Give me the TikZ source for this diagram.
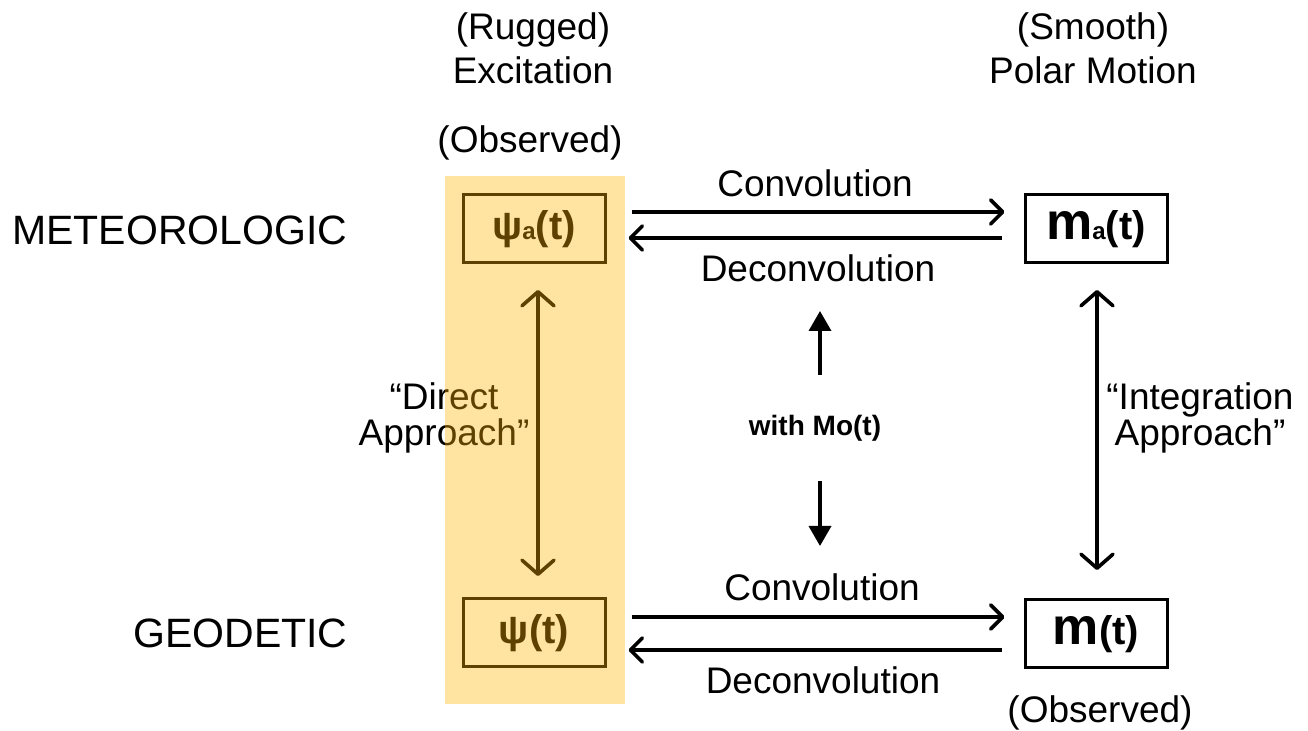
\documentclass[tikz,border=0pt]{standalone}
\usepackage{fontspec}
\setmainfont{Liberation Sans}
\usetikzlibrary{arrows.meta}
\begin{document}
\begin{tikzpicture}[x=0.5pt,y=-0.5pt,
  lbl/.style={font=\fontsize{18.5}{21}\selectfont, inner sep=0pt},
  row/.style={font=\fontsize{20.5}{23}\selectfont, inner sep=0pt},
  sym/.style={draw, line width=1.5pt, minimum width=71pt, minimum height=34pt, inner sep=0pt,
     font=\fontsize{20}{22}\selectfont\bfseries},
  arr/.style={line width=1.8pt, -{Straight Barb[length=6pt,width=12pt,line cap=round,line join=round]}},
  darr/.style={line width=1.8pt, {Straight Barb[length=7pt,width=16pt,line cap=round,line join=round]}-{Straight Barb[length=7pt,width=16pt,line cap=round,line join=round]}},
  varr/.style={line width=1.8pt, -{Triangle[length=10pt,width=11pt]}}]
\useasboundingbox (0,0) rectangle (1308,731);
% column headers
\node[lbl] (rug) at (533,30) {(Rugged)};
\node[lbl] (exc) at (533,70) {Excitation};
\node[lbl] (smo) at (1093,30) {(Smooth)};
\node[lbl] (pol) at (1093,70) {Polar Motion};
\node[lbl] (obs1) at (530,143) {(Observed)};
\node[lbl] (obs2) at (1100,713) {(Observed)};
% row headers
\node[row, anchor=west] (met) at (12,230) {METEOROLOGIC};
\node[row, anchor=west] (geo) at (133,633) {GEODETIC};
% boxes
\node[sym] (psia) at (534,229) {ψ{\fontsize{12}{12}\selectfont a}(t)};
\node[sym] (ma) at (1096,229) {{\fontsize{26}{26}\selectfont m}{\fontsize{12}{12}\selectfont a}(t)};
\node[sym] (psi) at (534,633) {ψ(t)};
\node[sym] (m) at (1096,634) {{\fontsize{26}{26}\selectfont m}(t)};
% horizontal arrows
\draw[arr, shorten <=12.5pt, shorten >=9.5pt] (psia.east |- 0,212) -- (ma.west |- 0,212);
\draw[arr, shorten <=11pt, shorten >=11pt] (ma.west |- 0,238) -- (psia.east |- 0,238);
\node[lbl] (conv1) at (815,183) {Convolution};
\node[lbl] (dec1) at (818,268) {Deconvolution};
\draw[arr, shorten <=12.5pt, shorten >=9.5pt] (psi.east |- 0,617) -- (m.west |- 0,617);
\draw[arr, shorten <=11pt, shorten >=11pt] (m.west |- 0,650) -- (psi.east |- 0,650);
\node[lbl] (conv2) at (822,587) {Convolution};
\node[lbl] (dec2) at (823,680) {Deconvolution};
% center
\node[font=\fontsize{14}{16}\selectfont\bfseries, inner sep=0pt] (mo) at (815,428) {with Mo(t)};
\draw[varr, shorten <=20pt] (mo.north -| 820,0) -- (820,311);
\draw[varr, shorten <=20pt] (mo.south -| 820,0) -- (820,546);
% vertical double arrows
\draw[darr] (538,290) -- (538,576);
\draw[darr] (1097,290) -- (1097,570);
\node[lbl, align=center] (direct) at (444,418) {“Direct\\[-3pt]Approach”};
\node[lbl, align=center] (integ) at (1200,418) {“Integration\\[-3pt]Approach”};
% highlight overlay
\fill[color={rgb,255:red,255;green,178;blue,0}, fill opacity=0.37] (445,176) rectangle (625,704);
\end{tikzpicture}
\end{document}
